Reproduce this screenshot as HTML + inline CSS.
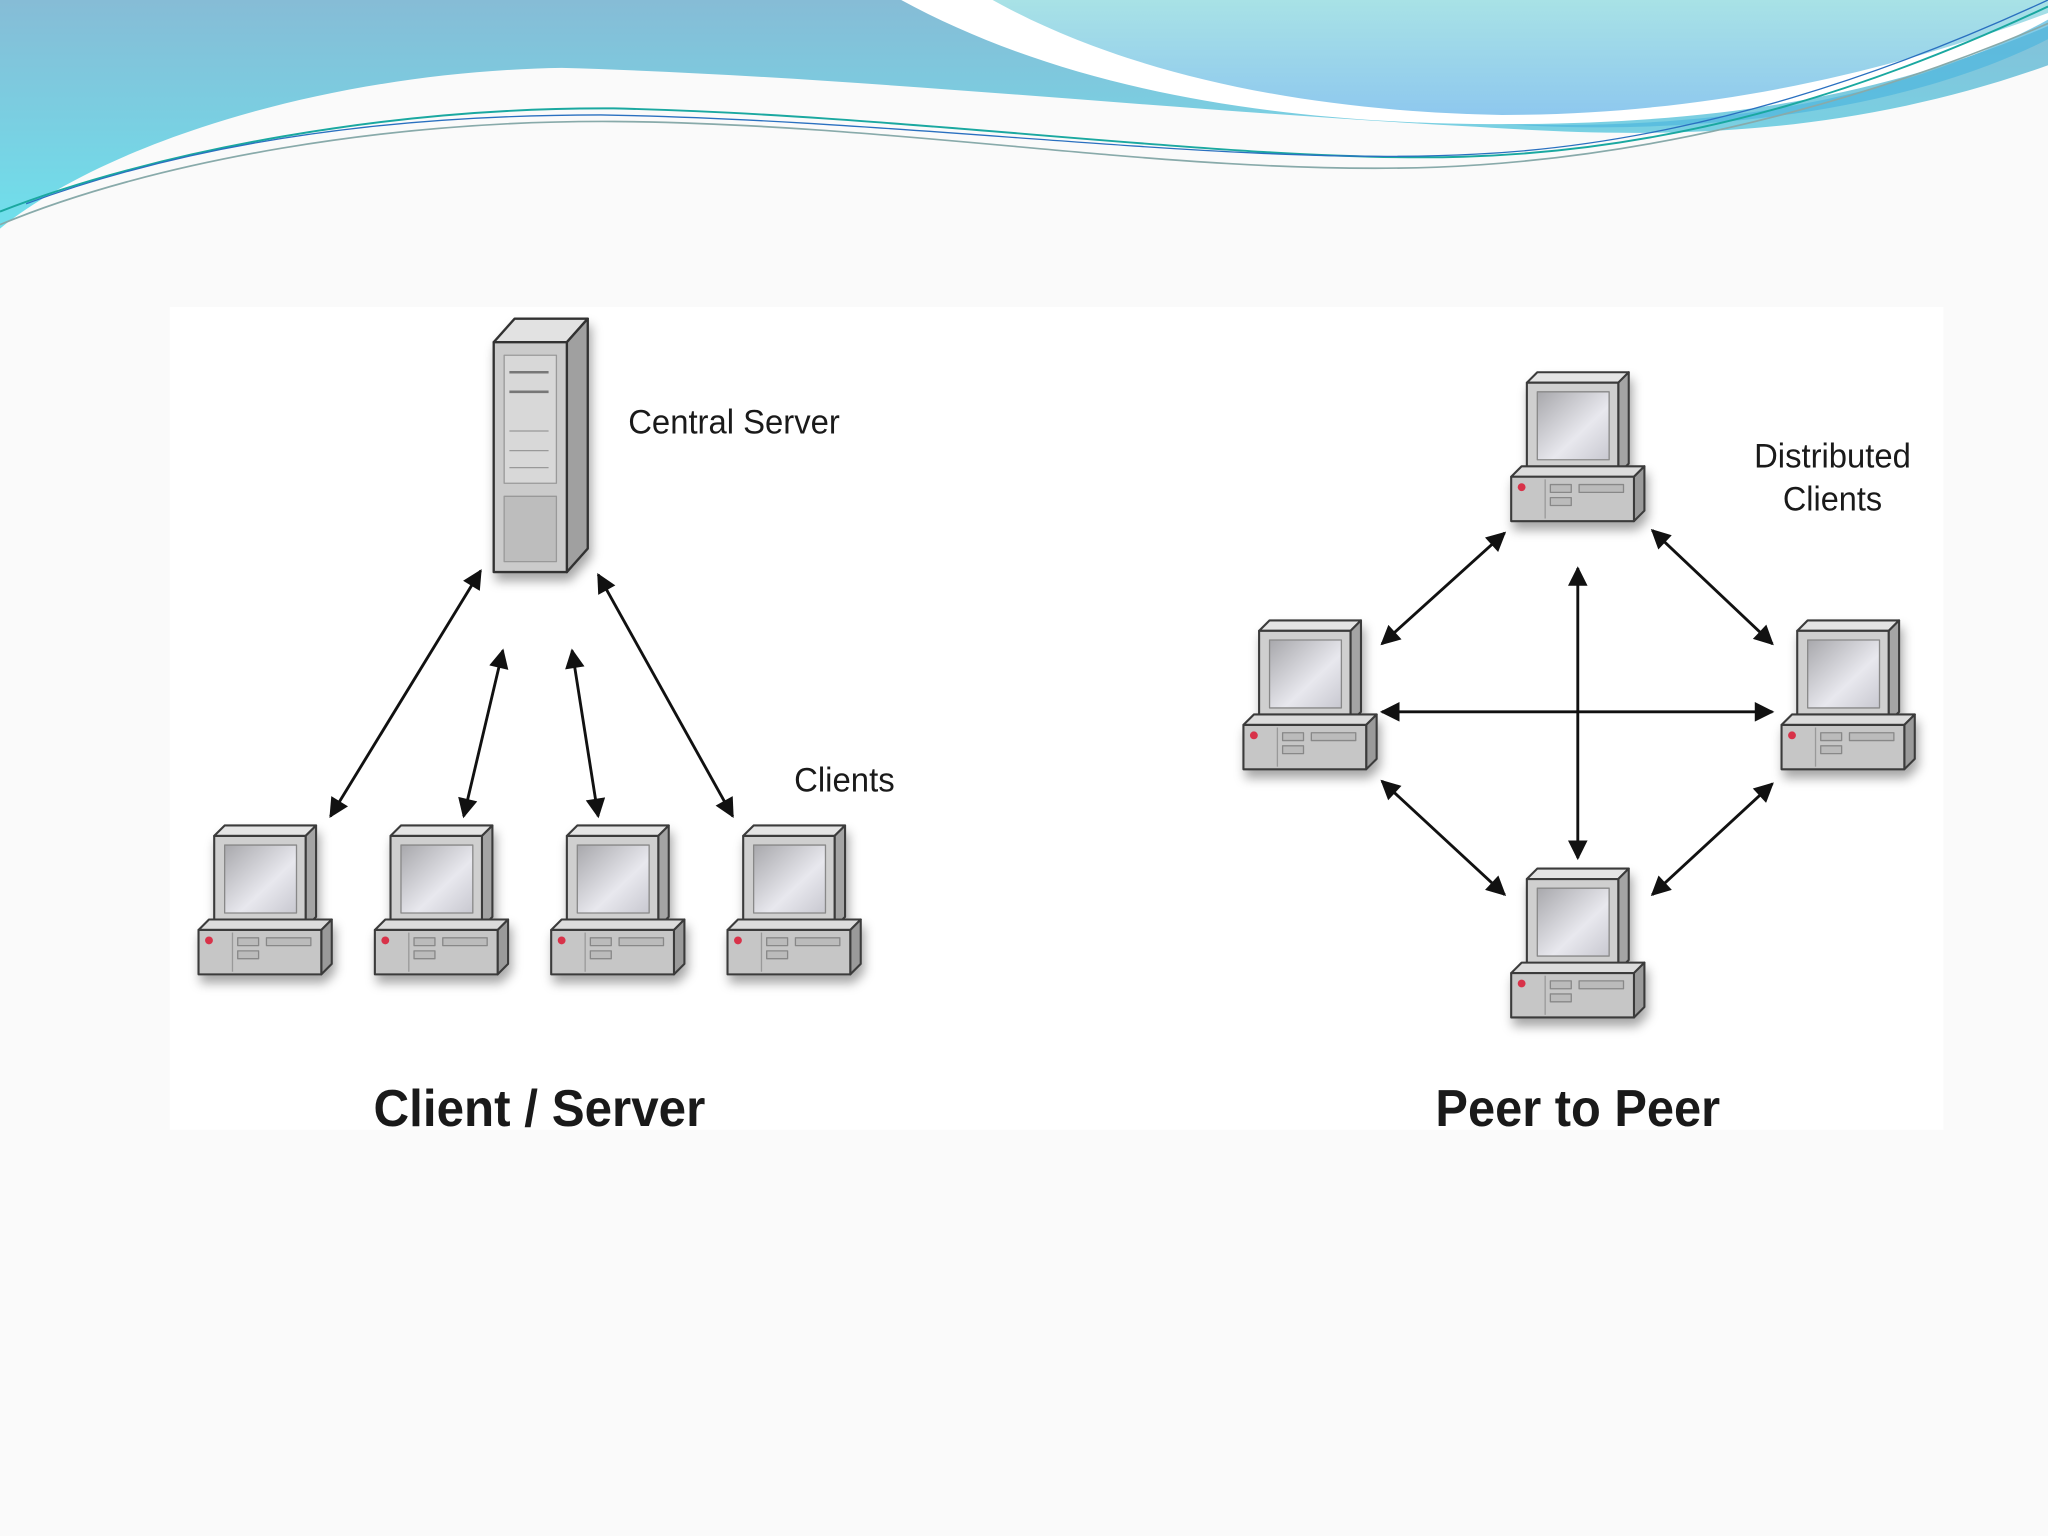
<!DOCTYPE html>
<html><head><meta charset="utf-8"><style>
html,body{margin:0;padding:0;width:2048px;height:1536px;overflow:hidden;background:#fafafa}
svg{display:block}
text{font-family:"Liberation Sans",Arial,sans-serif;fill:#1a1a1a}
</style></head><body>
<svg width="2048" height="1536" viewBox="0 0 1568 1176" xmlns="http://www.w3.org/2000/svg">
<defs>
<linearGradient id="bg1" x1="0" y1="0" x2="0" y2="1"><stop offset="0" stop-color="#86bcd6"/><stop offset="1" stop-color="#6fe0ec"/></linearGradient>
<linearGradient id="bg2" x1="0" y1="0" x2="0" y2="1"><stop offset="0" stop-color="#a8e2e6"/><stop offset="1" stop-color="#8ec8ee"/></linearGradient>
<linearGradient id="scr" x1="0" y1="0" x2="1" y2="1"><stop offset="0" stop-color="#a8a8ac"/><stop offset="0.6" stop-color="#e8e8ee"/><stop offset="1" stop-color="#c8c8d0"/></linearGradient>
<filter id="sh" x="-20%" y="-20%" width="140%" height="150%"><feDropShadow dx="2" dy="6" stdDeviation="4" flood-color="#000" flood-opacity="0.35"/></filter>
<marker id="a" viewBox="0 0 10 10" refX="9" refY="5" markerWidth="20" markerHeight="15" orient="auto-start-reverse" markerUnits="userSpaceOnUse"><path d="M0,0 L10,5 L0,10 z" fill="#111"/></marker>
<g id="pc" filter="url(#sh)" stroke="#3a3a3a" stroke-width="1.6" stroke-linejoin="round">
<polygon points="14,10 22,2 92,2 84,10" fill="#e4e4e4"/>
<polygon points="84,10 92,2 92,72 84,80" fill="#a4a4a4"/>
<rect x="14" y="10" width="70" height="70" fill="#cfcfcf"/>
<rect x="22" y="17" width="55" height="52" fill="url(#scr)" stroke="#888" stroke-width="1"/>
<polygon points="2,82 10,74 104,74 96,82" fill="#dcdcdc"/>
<polygon points="96,82 104,74 104,108 96,116" fill="#9a9a9a"/>
<rect x="2" y="82" width="94" height="34" fill="#c6c6c6"/>
<line x1="28" y1="84" x2="28" y2="114" stroke="#999" stroke-width="1"/>
<rect x="32" y="88" width="16" height="6" fill="#bbb" stroke="#888" stroke-width="1"/>
<rect x="32" y="98" width="16" height="6" fill="#bbb" stroke="#888" stroke-width="1"/>
<rect x="54" y="88" width="34" height="6" fill="#bbb" stroke="#888" stroke-width="1"/>
<circle cx="10" cy="90" r="3" fill="#d8334a" stroke="none"/>
</g>
</defs>
<path d="M0,0 H1568 V50 C1400,110 1250,105 1130,97 C900,85 650,58 430,52 C250,55 80,110 0,175 Z" fill="url(#bg1)"/>
<path d="M690,0 C800,60 950,95 1150,95 C1330,95 1450,70 1568,20 V0 Z" fill="#ffffff"/>
<path d="M760,0 C850,50 980,85 1150,88 C1320,88 1460,50 1568,10 V0 Z" fill="url(#bg2)"/>
<path d="M1150,95 C1300,100 1450,80 1568,15 V30 C1460,85 1300,105 1150,95 Z" fill="#4fb6de" opacity="0.7"/>
<path d="M0,162 C120,115 300,82 470,83 C700,88 950,125 1120,120 C1300,115 1450,60 1568,5" fill="none" stroke="#1aa8a0" stroke-width="1.5"/>
<path d="M0,172 C120,122 300,92 470,93 C700,95 900,135 1100,128 C1300,120 1470,60 1568,18" fill="none" stroke="#8aa" stroke-width="1.3"/>
<path d="M20,156 C150,108 300,88 460,88 C700,92 950,128 1130,118 C1300,110 1460,50 1568,0" fill="none" stroke="#2a70c0" stroke-width="1"/>
<rect x="130" y="235" width="1358" height="630" fill="#ffffff"/>
<g filter="url(#sh)" stroke="#333" stroke-width="1.8" stroke-linejoin="round">
<polygon points="378,262 394,244 450,244 434,262" fill="#e2e2e2"/>
<polygon points="434,262 450,244 450,420 434,438" fill="#a0a0a0"/>
<rect x="378" y="262" width="56" height="176" fill="#cbcbcb"/>
<rect x="386" y="272" width="40" height="98" fill="#d8d8d8" stroke="#999" stroke-width="1"/>
<rect x="386" y="380" width="40" height="50" fill="#bdbdbd" stroke="#999" stroke-width="1"/>
<line x1="390" y1="285" x2="420" y2="285" stroke="#777" stroke-width="2"/>
<line x1="390" y1="300" x2="420" y2="300" stroke="#777" stroke-width="2"/>
<line x1="390" y1="330" x2="420" y2="330" stroke="#999" stroke-width="1"/>
<line x1="390" y1="345" x2="420" y2="345" stroke="#999" stroke-width="1"/>
<line x1="390" y1="358" x2="420" y2="358" stroke="#999" stroke-width="1"/>
</g>
<use href="#pc" x="150" y="630"/>
<use href="#pc" x="285" y="630"/>
<use href="#pc" x="420" y="630"/>
<use href="#pc" x="555" y="630"/>
<use href="#pc" x="1155" y="283"/>
<use href="#pc" x="950" y="473"/>
<use href="#pc" x="1362" y="473"/>
<use href="#pc" x="1155" y="663"/>
<g stroke="#111" stroke-width="2.2" fill="none" marker-start="url(#a)" marker-end="url(#a)">
<line x1="368" y1="437" x2="253" y2="625"/>
<line x1="385" y1="498" x2="355" y2="625"/>
<line x1="438" y1="498" x2="458" y2="625"/>
<line x1="458" y1="440" x2="561" y2="625"/>
<line x1="1152" y1="408" x2="1058" y2="493"/>
<line x1="1265" y1="406" x2="1357" y2="493"/>
<line x1="1058" y1="545" x2="1357" y2="545"/>
<line x1="1208" y1="435" x2="1208" y2="657"/>
<line x1="1058" y1="598" x2="1152" y2="685"/>
<line x1="1357" y1="600" x2="1265" y2="685"/>
</g>
<text x="481" y="332" font-size="26" textLength="162" lengthAdjust="spacingAndGlyphs">Central Server</text>
<text x="608" y="606" font-size="26" textLength="77" lengthAdjust="spacingAndGlyphs">Clients</text>
<text x="1343" y="358" font-size="26" textLength="120" lengthAdjust="spacingAndGlyphs">Distributed</text>
<text x="1365" y="391" font-size="26" textLength="76" lengthAdjust="spacingAndGlyphs">Clients</text>
<text x="286" y="862" font-size="40" font-weight="bold" textLength="254" lengthAdjust="spacingAndGlyphs">Client / Server</text>
<text x="1099" y="862" font-size="40" font-weight="bold" textLength="218" lengthAdjust="spacingAndGlyphs">Peer to Peer</text>
</svg>
</body></html>
